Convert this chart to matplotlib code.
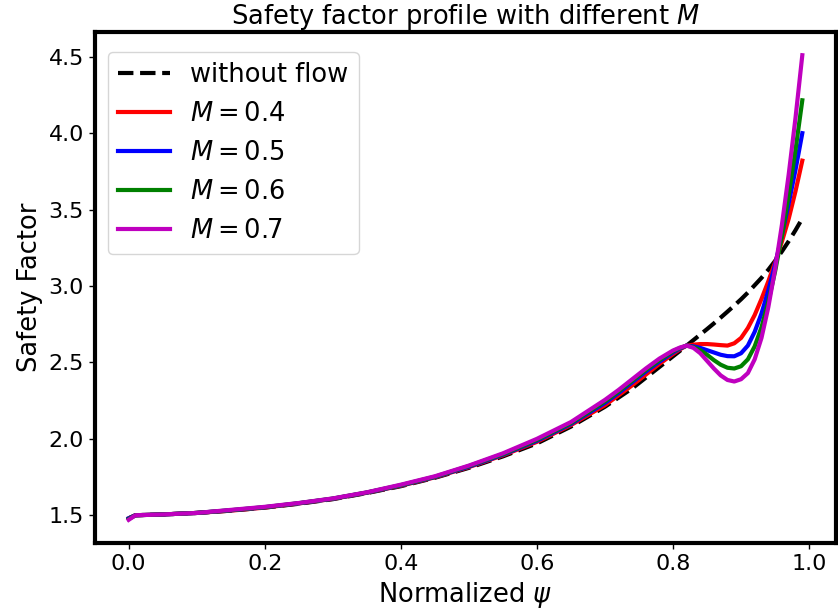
import matplotlib
matplotlib.use("Agg")
import matplotlib.pyplot as plt

psi = [0.0, 0.01, 0.05, 0.1, 0.15, 0.2, 0.25, 0.3, 0.35, 0.4, 0.45, 0.5, 0.55, 0.6, 0.65,
       0.7, 0.72, 0.74, 0.76, 0.78, 0.8, 0.81, 0.82, 0.83, 0.84, 0.85, 0.86, 0.87, 0.88,
       0.89, 0.9, 0.91, 0.92, 0.93, 0.94, 0.95, 0.96, 0.97, 0.98, 0.99]

q_noflow = [1.48, 1.50, 1.505, 1.515, 1.53, 1.55, 1.575, 1.605, 1.645, 1.69, 1.745, 1.81, 1.885, 1.97, 2.08,
            2.21, 2.27, 2.33, 2.40, 2.47, 2.54, 2.575, 2.61, 2.646, 2.682, 2.718, 2.755, 2.793, 2.832,
            2.872, 2.913, 2.957, 3.005, 3.053, 3.106, 3.164, 3.226, 3.293, 3.365, 3.442]

q_m04 = [1.48, 1.50, 1.505, 1.515, 1.53, 1.55, 1.577, 1.607, 1.647, 1.693, 1.748, 1.815, 1.892, 1.98, 2.09,
         2.22, 2.285, 2.35, 2.42, 2.49, 2.555, 2.585, 2.61, 2.616, 2.62, 2.62, 2.617, 2.613, 2.61,
         2.625, 2.66, 2.725, 2.81, 2.915, 3.03, 3.155, 3.29, 3.44, 3.62, 3.82]

q_m05 = [1.48, 1.50, 1.505, 1.515, 1.532, 1.552, 1.578, 1.608, 1.648, 1.695, 1.75, 1.818, 1.896, 1.987, 2.097,
         2.235, 2.30, 2.37, 2.44, 2.505, 2.565, 2.59, 2.61, 2.605, 2.595, 2.58, 2.565, 2.55, 2.541,
         2.54, 2.56, 2.61, 2.70, 2.82, 2.97, 3.14, 3.33, 3.54, 3.76, 4.00]

q_m06 = [1.475, 1.50, 1.505, 1.515, 1.533, 1.553, 1.579, 1.609, 1.649, 1.697, 1.752, 1.822, 1.90, 1.993, 2.103,
         2.245, 2.31, 2.38, 2.45, 2.515, 2.572, 2.594, 2.61, 2.60, 2.58, 2.55, 2.515, 2.485, 2.465,
         2.46, 2.475, 2.52, 2.605, 2.73, 2.895, 3.095, 3.33, 3.595, 3.89, 4.215]

q_m07 = [1.47, 1.50, 1.505, 1.515, 1.535, 1.555, 1.58, 1.61, 1.65, 1.70, 1.755, 1.825, 1.905, 2.00, 2.11,
         2.255, 2.32, 2.39, 2.46, 2.525, 2.578, 2.597, 2.61, 2.595, 2.56, 2.51, 2.46, 2.415, 2.385,
         2.375, 2.39, 2.43, 2.52, 2.66, 2.86, 3.11, 3.40, 3.73, 4.10, 4.51]

fig = plt.figure(figsize=(8.38, 6.15), dpi=100)
ax = fig.add_axes([0.1134, 0.117, 0.8842, 0.831])

ax.plot(psi, q_noflow, 'k--', lw=3, label='without flow')
ax.plot(psi, q_m04, color='r', lw=3, label=r'$M=0.4$')
ax.plot(psi, q_m05, color='b', lw=3, label=r'$M=0.5$')
ax.plot(psi, q_m06, color='g', lw=3, label=r'$M=0.6$')
ax.plot(psi, q_m07, color='m', lw=3, label=r'$M=0.7$')

for s in ax.spines.values():
    s.set_linewidth(3)
ax.tick_params(labelsize=16, length=4.5, width=1)
ax.set_xlabel(r'Normalized $\psi$', fontsize=18.5)
ax.set_ylabel('Safety Factor', fontsize=18.5)
ax.set_title(r'Safety factor profile with different $M$', fontsize=18.5)
ax.legend(fontsize=18.5, loc='upper left', bbox_to_anchor=(0.0, 0.986))

fig.savefig('out.png', dpi=100)
